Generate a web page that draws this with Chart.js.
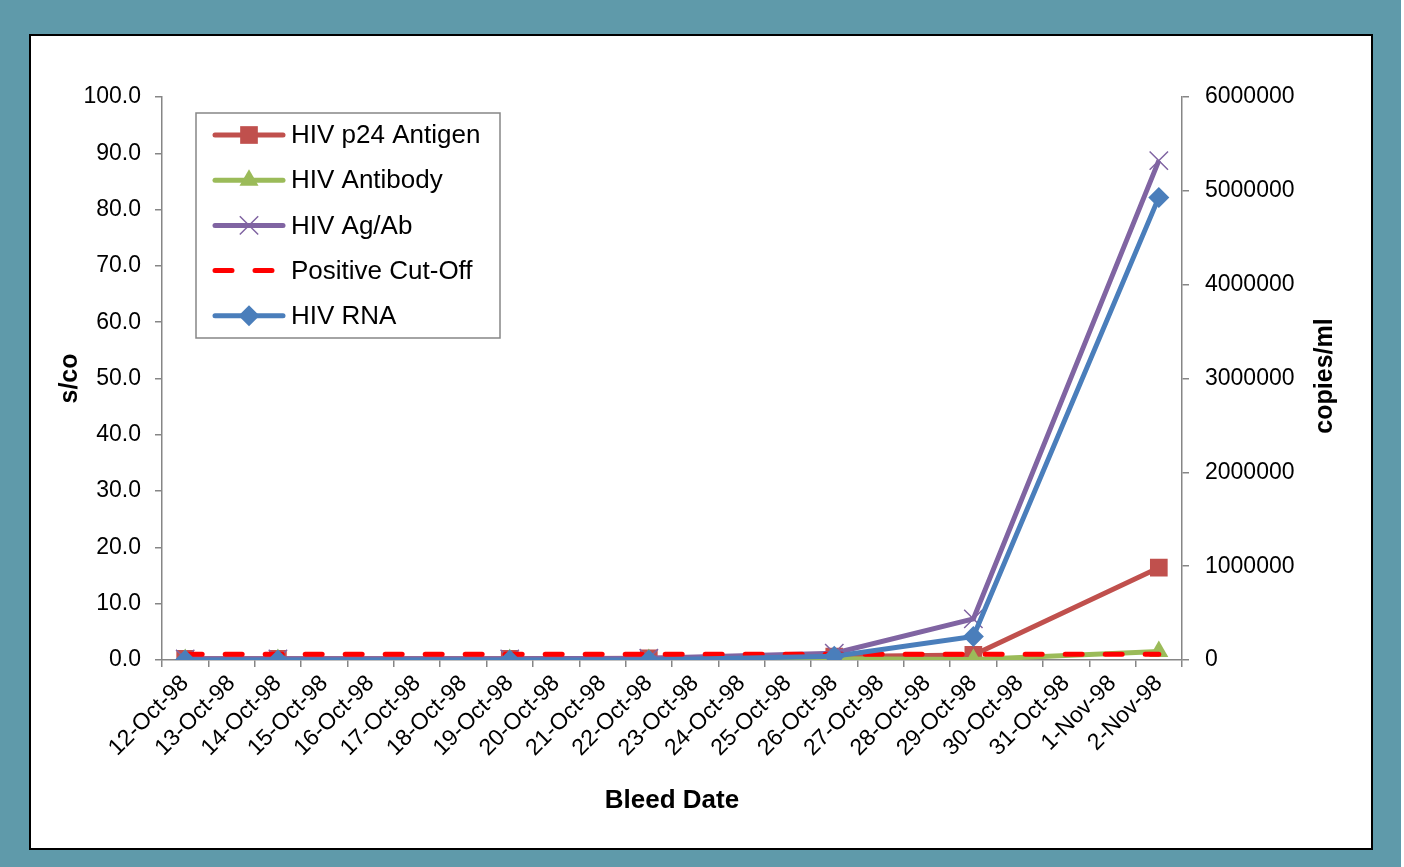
<!DOCTYPE html>
<html>
<head>
<meta charset="utf-8">
<script src="https://cdn.jsdelivr.net/npm/chart.js@4"></script>
<style>
  body { margin: 0; background: #ffffff; }
  #frame { position: absolute; left: 0; top: 0; width: 1401px; height: 867px; background: #5f9aaa; }
  #panel { position: absolute; left: 29px; top: 34px; width: 1340px; height: 812px; background: #ffffff; border: 2px solid #000000; }
  #chart { position: absolute; left: 0; top: 0; }
</style>
</head>
<body>
<div id="frame"></div>
<div id="panel"></div>
<canvas id="chart" width="1404" height="867"></canvas>
<script>

// bleed dates (one category per day)
const dates = [
  "12-Oct-98", "13-Oct-98", "14-Oct-98", "15-Oct-98", "16-Oct-98",
  "17-Oct-98", "18-Oct-98", "19-Oct-98", "20-Oct-98", "21-Oct-98",
  "22-Oct-98", "23-Oct-98", "24-Oct-98", "25-Oct-98", "26-Oct-98",
  "27-Oct-98", "28-Oct-98", "29-Oct-98", "30-Oct-98", "31-Oct-98",
  "1-Nov-98", "2-Nov-98"
];

// s/co values, null where no bleed was taken
const p24Antigen = [0.2, null, 0.2, null, null, null, null, 0.2, null, null, 0.3, null, null, null, 0.6, null, null, 0.9, null, null, null, 16.4];
const hivAntibody = [0.1, null, 0.1, null, null, null, null, 0.1, null, null, 0.1, null, null, null, 0.2, null, null, 0.1, null, null, null, 1.5];
const hivAgAb = [0.2, null, 0.2, null, null, null, null, 0.2, null, null, 0.3, null, null, null, 1.2, null, null, 7.3, null, null, null, 88.7];
const cutOff = [1.0, null, 1.0, null, null, null, null, 1.0, null, null, 1.0, null, null, null, 1.0, null, null, 1.0, null, null, null, 1.0];

// copies/ml
const hivRna = [0, null, 0, null, null, null, null, 0, null, null, 0, null, null, null, 40000, null, null, 250000, null, null, null, 4930000];

const leftMax = 100;
const leftStep = 10;
const rightMax = 6000000;
const rightStep = 1000000;

const FONT = "'Liberation Sans', Arial, sans-serif";
const AXIS = "#868686";

function drawMarker(ctx, style, radius, x, y, color) {

  ctx.save();
  ctx.fillStyle = color;
  ctx.strokeStyle = color;
  ctx.lineWidth = 1.5;
  ctx.setLineDash([]);
  ctx.beginPath();

  if (style === "rect") {
    const s = Math.SQRT1_2 * radius;
    ctx.rect(x - s, y - s, 2 * s, 2 * s);
    ctx.fill();
  } else if (style === "triangle") {
    for (let i = 0; i < 3; i++) {
      const a = i * 2 * Math.PI / 3;
      const px = x + Math.sin(a) * radius;
      const py = y - Math.cos(a) * radius;
      if (i === 0) ctx.moveTo(px, py); else ctx.lineTo(px, py);
    }
    ctx.closePath();
    ctx.fill();
  } else if (style === "rectRot") {
    ctx.moveTo(x - radius, y);
    ctx.lineTo(x, y - radius);
    ctx.lineTo(x + radius, y);
    ctx.lineTo(x, y + radius);
    ctx.closePath();
    ctx.fill();
  } else if (style === "crossRot") {
    const d = Math.SQRT1_2 * radius;
    ctx.moveTo(x - d, y - d);
    ctx.lineTo(x + d, y + d);
    ctx.moveTo(x + d, y - d);
    ctx.lineTo(x - d, y + d);
    ctx.stroke();
  }

  ctx.restore();
}

// legend box sits inside the plot, like the original
const insideLegend = {
  id: "insideLegend",
  afterDraw(chart) {

    const ctx = chart.ctx;
    const boxX = 196, boxY = 113, boxW = 304, boxH = 225;

    ctx.save();
    ctx.fillStyle = "#ffffff";
    ctx.fillRect(boxX, boxY, boxW, boxH);
    ctx.strokeStyle = AXIS;
    ctx.lineWidth = 1.5;
    ctx.strokeRect(boxX, boxY, boxW, boxH);

    chart.data.datasets.forEach((ds, i) => {

      const y = 135 + i * 45.2;

      ctx.save();
      ctx.strokeStyle = ds.borderColor;
      ctx.lineWidth = ds.borderWidth;
      ctx.lineCap = "round";
      ctx.setLineDash(ds.borderDash || []);
      ctx.beginPath();
      ctx.moveTo(215, y);
      ctx.lineTo(283, y);
      ctx.stroke();
      ctx.restore();

      if (ds.pointRadius > 0) {
        drawMarker(ctx, ds.pointStyle, ds.pointRadius, 249, y, ds.borderColor);
      }

      ctx.fillStyle = "#000000";
      ctx.font = "26px " + FONT;
      ctx.textBaseline = "middle";
      ctx.textAlign = "left";
      ctx.fillText(ds.label, 291, y + 1);
    });

    // right axis title reads bottom to top
    ctx.save();
    ctx.translate(1325, 376);
    ctx.rotate(-Math.PI / 2);
    ctx.font = "bold 25px " + FONT;
    ctx.fillStyle = "#000000";
    ctx.textAlign = "center";
    ctx.textBaseline = "middle";
    ctx.fillText("copies/ml", 0, 0);
    ctx.restore();

    ctx.restore();
  }
};

function lineSet(label, data, color, style, radius, order, axis) {
  return {
    label: label,
    data: data,
    yAxisID: axis,
    borderColor: color,
    backgroundColor: color,
    borderWidth: 5,
    pointStyle: style,
    pointRadius: radius,
    pointHoverRadius: radius,
    pointBackgroundColor: color,
    pointBorderColor: color,
    pointBorderWidth: style === "crossRot" ? 1.5 : 0,
    spanGaps: true,
    tension: 0,
    order: order
  };
}

const ctx = document.getElementById("chart");

new Chart(ctx, {

  type: "line",

  data: {

    labels: dates,

    datasets: [
      lineSet("HIV p24 Antigen", p24Antigen, "#c0504d", "rect", 12.5, 4, "y"),
      lineSet("HIV Antibody", hivAntibody, "#9bbb59", "triangle", 11, 3, "y"),
      lineSet("HIV Ag/Ab", hivAgAb, "#8064a2", "crossRot", 13, 2, "y"),
      Object.assign(lineSet("Positive Cut-Off", cutOff, "#ff0000", "circle", 0, 1, "y"), {
        borderDash: [17, 23],
        borderCapStyle: "round",
        borderWidth: 5
      }),
      lineSet("HIV RNA", hivRna, "#4a7ebb", "rectRot", 10.5, 0, "y2")
    ]

  },

  options: {

    responsive: false,
    animation: false,
    devicePixelRatio: 1,

    layout: {
      padding: { top: 97, left: 0, right: 0, bottom: 0 }
    },

    plugins: {
      legend: { display: false },
      tooltip: { enabled: false }
    },

    scales: {

      x: {
        type: "category",
        offset: true,
        grid: {
          offset: true,
          drawOnChartArea: false,
          drawTicks: true,
          tickLength: 7,
          color: AXIS,
          lineWidth: 1.5
        },
        border: { color: AXIS, width: 1.5 },
        ticks: {
          autoSkip: false,
          minRotation: 45,
          maxRotation: 45,
          padding: 3,
          color: "#000000",
          font: { family: FONT, size: 23 }
        },
        title: {
          display: true,
          text: "Bleed Date",
          color: "#000000",
          font: { family: FONT, size: 26, weight: "bold" },
          padding: { top: 0, bottom: 51 }
        },
        afterFit(scale) {
          scale.height = 207;
        }
      },

      y: {
        position: "left",
        min: 0,
        max: leftMax,
        grid: {
          drawOnChartArea: false,
          tickLength: 7,
          color: AXIS,
          lineWidth: 1.5
        },
        border: { color: AXIS, width: 1.5 },
        ticks: {
          stepSize: leftStep,
          padding: 14,
          color: "#000000",
          font: { family: FONT, size: 23 },
          callback: v => v.toFixed(1)
        },
        title: {
          display: true,
          text: "s/co",
          color: "#000000",
          font: { family: FONT, size: 25, weight: "bold" },
          padding: { top: 55, bottom: 0 }
        },
        afterFit(scale) {
          scale.width = 162;
        }
      },

      y2: {
        position: "right",
        min: 0,
        max: rightMax,
        grid: {
          drawOnChartArea: false,
          tickLength: 7,
          color: AXIS,
          lineWidth: 1.5
        },
        border: { color: AXIS, width: 1.5 },
        ticks: {
          stepSize: rightStep,
          padding: 16,
          color: "#000000",
          font: { family: FONT, size: 23 },
          callback: v => String(v)
        },
        afterFit(scale) {
          scale.width = 222;
        }
      }

    }

  },

  plugins: [insideLegend]

});

</script>
</body>
</html>
